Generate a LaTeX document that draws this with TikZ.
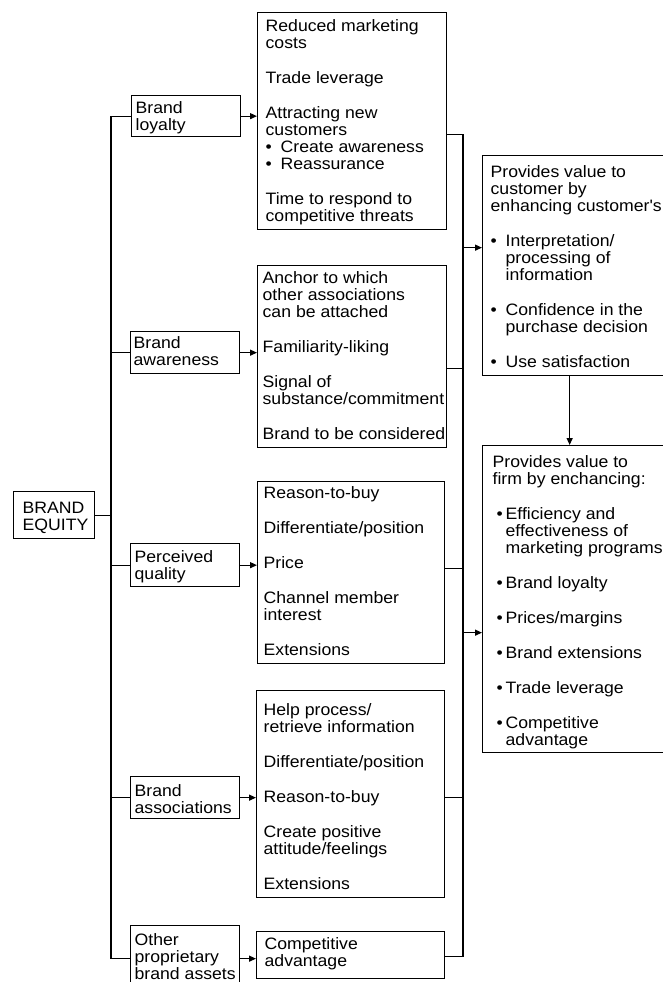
\documentclass[tikz,border=0pt]{standalone}
\usepackage{fontspec}
\setmainfont{Liberation Sans}[FakeStretch=1.07]
\usetikzlibrary{arrows.meta}
% #1 width, #2 height, #3 left pad, #4 first baseline offset, #5 lines
\newcommand\bx[5]{\hbox to #1{\hskip#3\relax\vbox to #2{\baselineskip=17pt\lineskiplimit=-1000pt\lineskip=0pt\vskip\dimexpr#4-17pt\relax\hbox{}#5\vfil}\hss}}
\newcommand\myl[1]{\hbox{#1}}
\newcommand\mygap{\vskip18pt}
\newcommand\myb[1]{\hbox{\makebox[15pt][l]{\textbullet}#1}}
\newcommand\myi[1]{\hbox{\hspace*{15pt}#1}}
\newcommand\myc[1]{\hbox{\hspace*{4pt}\makebox[9pt][l]{\textbullet}#1}}
\newcommand\myj[1]{\hbox{\hspace*{13pt}#1}}
\begin{document}
\begin{tikzpicture}[x=1pt,y=-1pt,line width=1.3pt,
  box/.style={draw,inner sep=0pt,anchor=north west,font=\fontsize{16.5}{17}\selectfont},
  arr/.style={-{Triangle[length=7pt,width=6pt]}}]
\useasboundingbox (0,0) rectangle (662,982);
\coordinate (tx) at (111,0);
\coordinate (bx) at (463,0);
% left
\node[box] (be) at (13,491) {\bx{81pt}{47pt}{9pt}{22pt}{\myl{BRAND}\myl{EQUITY}}};
% small boxes
\node[box] (bl) at (131,95) {\bx{109pt}{41pt}{4pt}{18pt}{\myl{Brand}\myl{loyalty}}};
\node[box] (ba) at (130,331) {\bx{109pt}{42pt}{3pt}{17pt}{\myl{Brand}\myl{awareness}}};
\node[box] (pq) at (130,543) {\bx{109pt}{43pt}{4pt}{19pt}{\myl{Perceived}\myl{quality}}};
\node[box] (bas) at (130,776) {\bx{109pt}{42pt}{4pt}{20pt}{\myl{Brand}\myl{associations}}};
\node[box] (oth) at (130,925) {\bx{109pt}{66pt}{4pt}{20pt}{\myl{Other}\myl{proprietary}\myl{brand assets}}};
% middle boxes
\node[box] (b1) at (257,12) {\bx{189pt}{217pt}{8pt}{19pt}{%
  \myl{Reduced marketing}\myl{costs}\mygap
  \myl{Trade leverage}\mygap
  \myl{Attracting new}\myl{customers}\myb{Create awareness}\myb{Reassurance}\mygap
  \myl{Time to respond to}\myl{competitive threats}}};
\node[box] (b2) at (257,265) {\bx{189pt}{182pt}{5pt}{18pt}{%
  \myl{Anchor to which}\myl{other associations}\myl{can be attached}\mygap
  \myl{Familiarity-liking}\mygap
  \myl{Signal of}\myl{substance/commitment}\mygap
  \myl{Brand to be considered}}};
\node[box] (b3) at (257,481) {\bx{187pt}{182pt}{6pt}{17pt}{%
  \myl{Reason-to-buy}\mygap
  \myl{Differentiate/position}\mygap
  \myl{Price}\mygap
  \myl{Channel member}\myl{interest}\mygap
  \myl{Extensions}}};
\node[box] (b4) at (256,690) {\bx{188pt}{207pt}{7pt}{25pt}{%
  \myl{Help process/}\myl{retrieve information}\mygap
  \myl{Differentiate/position}\mygap
  \myl{Reason-to-buy}\mygap
  \myl{Create positive}\myl{attitude/feelings}\mygap
  \myl{Extensions}}};
\node[box] (b5) at (256,931) {\bx{188pt}{47pt}{8pt}{18pt}{\myl{Competitive}\myl{advantage}}};
% right boxes
\node[box] (r1) at (482,155) {\bx{185pt}{220pt}{8pt}{22pt}{%
  \myl{Provides value to}\myl{customer by}\myl{enhancing customer\textquotesingle s}\mygap
  \myb{Interpretation/}\myi{processing of}\myi{information}\mygap
  \myb{Confidence in the}\myi{purchase decision}\mygap
  \myb{Use satisfaction}}};
\node[box] (r2) at (482,445) {\bx{185pt}{307pt}{10pt}{22pt}{%
  \myl{Provides value to}\myl{firm by enchancing:}\mygap
  \myc{Efficiency and}\myj{effectiveness of}\myj{marketing programs}\mygap
  \myc{Brand loyalty}\mygap
  \myc{Prices/margins}\mygap
  \myc{Brand extensions}\mygap
  \myc{Trade leverage}\mygap
  \myc{Competitive}\myj{advantage}}};
% trunk
\draw (be.east) -- (be.east -| tx);
\draw (bl.west) -- (bl.west -| tx) -- (oth.west -| tx) -- (oth.west);
\draw (ba.west) -- (ba.west -| tx);
\draw (pq.west) -- (pq.west -| tx);
\draw (bas.west) -- (bas.west -| tx);
% arrows to middle boxes
\draw[arr] (bl.east) -- (bl.east -| b1.west);
\draw[arr] (ba.east) -- (ba.east -| b2.west);
\draw[arr] (pq.east) -- (pq.east -| b3.west);
\draw[arr] (bas.east) -- (bas.east -| b4.west);
\draw[arr] (oth.east) -- (oth.east -| b5.west);
% right bus
\draw ([yshift=-13.5pt]b1.east) -- ([yshift=-13.5pt]b1.east -| bx) -- ([yshift=-1.5pt]b5.east -| bx) -- ([yshift=-1.5pt]b5.east);
\draw ([yshift=-12pt]b2.east) -- ([yshift=-12pt]b2.east -| bx);
\draw ([yshift=4pt]b3.east) -- ([yshift=4pt]b3.east -| bx);
\draw ([yshift=-3.5pt]b4.east) -- ([yshift=-3.5pt]b4.east -| bx);
\draw[arr] ([yshift=18pt]r1.west -| bx) -- ([yshift=18pt]r1.west);
\draw[arr] ([yshift=-33.5pt]r2.west -| bx) -- ([yshift=-33.5pt]r2.west);
\draw[arr] ([xshift=-5.5pt]r1.south) -- ([xshift=-5.5pt]r2.north);
\end{tikzpicture}
\end{document}
